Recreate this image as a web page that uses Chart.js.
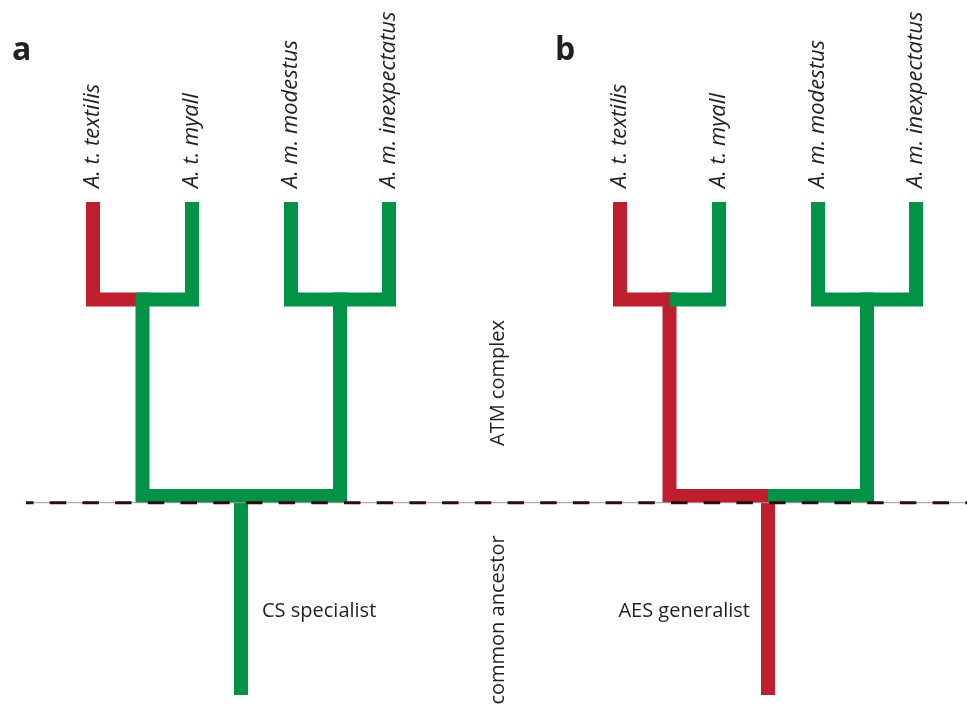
<!DOCTYPE html>
<html>
<head>
<meta charset="utf-8">
<script src="https://cdn.jsdelivr.net/npm/chart.js@4/dist/chart.umd.min.js"></script>
<style>
    html, body { margin: 0; padding: 0; background: #ffffff; }
    #wrap { width: 967px; height: 708px; position: relative; }
</style>
</head>
<body>
<div id="wrap"><canvas id="treeChart"></canvas></div>
<script>
// Tree geometry (chart units = pixels of the reference)
const taxa = ['A. t. textilis', 'A. t. myall', 'A. m. modestus', 'A. m. inexpectatus'];
const tipX = [93, 192, 291, 389];
const cladeX = [142.5, 340];
const rootX = 241;
const panelShift = [0, 527];
const tipTopY = 202;
const cladeY = 299.5;
const rootY = 496;
const baseY = 695;
const ancestorLineY = 502.7;

// Branch order: 4 tips, 2 clade stems, root
const panelLetters = ['a', 'b'];
const statesA = ['AES', 'CS', 'CS', 'CS', 'CS', 'CS', 'CS'];
const statesB = ['AES', 'CS', 'CS', 'CS', 'AES', 'CS', 'AES'];
const ancestorLabels = ['CS specialist', 'AES generalist'];
const sideLabels = ['ATM complex', 'common ancestor'];

const stateColors = { AES: '#BE1E2D', CS: '#009245' };
const branchWidth = 14;
const half = branchWidth / 2;

function buildPanel(shift, states) {
    const sets = [];
    const paths = [];
    tipX.forEach((x, i) => {
        const c = i < 2 ? 0 : 1;
        paths.push([
            { x: x + shift, y: tipTopY },
            { x: x + shift, y: cladeY },
            { x: cladeX[c] + shift, y: cladeY }
        ]);
    });
    cladeX.forEach(x => {
        paths.push([
            { x: x + shift, y: cladeY - half },
            { x: x + shift, y: rootY },
            { x: rootX + shift, y: rootY }
        ]);
    });
    paths.push([
        { x: rootX + shift, y: rootY - half },
        { x: rootX + shift, y: baseY }
    ]);
    paths.forEach((pts, i) => {
        sets.push({
            data: pts,
            showLine: true,
            borderColor: stateColors[states[i]],
            borderWidth: branchWidth,
            borderCapStyle: 'butt',
            borderJoinStyle: 'miter',
            pointRadius: 0,
            tension: 0,
            // green drawn on top of red
            order: states[i] === 'CS' ? 2 : 3
        });
    });
    return sets;
}

const datasets = [
    ...buildPanel(panelShift[0], statesA),
    ...buildPanel(panelShift[1], statesB),
    {
        data: [{ x: 26, y: ancestorLineY }, { x: 967, y: ancestorLineY }],
        showLine: true,
        borderColor: '#9a9a9a',
        borderWidth: 1,
        pointRadius: 0,
        order: 1
    },
    {
        data: [{ x: 26, y: ancestorLineY }, { x: 967, y: ancestorLineY }],
        showLine: true,
        borderColor: '#2d0d0d',
        borderWidth: 3,
        borderDash: [16.5, 16.2],
        borderDashOffset: 9,
        borderCapStyle: 'butt',
        pointRadius: 0,
        order: 0
    }
];

const labelPlugin = {
    id: 'treeLabels',
    afterDatasetsDraw(chart) {
        const ctx = chart.ctx;
        const xs = chart.scales.x;
        const ys = chart.scales.y;
        ctx.save();
        ctx.fillStyle = '#231f20';

        // panel letters
        ctx.font = 'bold 32px "Open Sans", sans-serif';
        ctx.textAlign = 'left';
        ctx.textBaseline = 'alphabetic';
        ctx.fillText(panelLetters[0], xs.getPixelForValue(12), ys.getPixelForValue(60));
        ctx.fillText(panelLetters[1], xs.getPixelForValue(555), ys.getPixelForValue(60));

        // taxon labels (rotated)
        ctx.font = 'italic 22px "Open Sans", sans-serif';
        panelShift.forEach(shift => {
            taxa.forEach((name, i) => {
                ctx.save();
                ctx.translate(xs.getPixelForValue(tipX[i] + shift), ys.getPixelForValue(188));
                ctx.rotate(-Math.PI / 2);
                ctx.textAlign = 'left';
                ctx.textBaseline = 'middle';
                ctx.fillText(name, 0, 0);
                ctx.restore();
            });
        });

        // ancestor state labels
        ctx.font = '20px "Open Sans", sans-serif';
        ctx.textBaseline = 'alphabetic';
        ctx.textAlign = 'left';
        ctx.fillText(ancestorLabels[0], xs.getPixelForValue(rootX + panelShift[0] + 21), ys.getPixelForValue(617));
        ctx.textAlign = 'right';
        ctx.fillText(ancestorLabels[1], xs.getPixelForValue(rootX + panelShift[1] - 18), ys.getPixelForValue(617));

        // side labels
        [[sideLabels[0], 383], [sideLabels[1], 620]].forEach(([txt, y]) => {
            ctx.save();
            ctx.translate(xs.getPixelForValue(498), ys.getPixelForValue(y));
            ctx.rotate(-Math.PI / 2);
            ctx.textAlign = 'center';
            ctx.textBaseline = 'middle';
            ctx.fillText(txt, 0, 0);
            ctx.restore();
        });
        ctx.restore();
    }
};

new Chart(document.getElementById('treeChart').getContext('2d'), {
    type: 'scatter',
    data: { datasets: datasets },
    options: {
        responsive: true,
        maintainAspectRatio: false,
        animation: false,
        layout: { padding: 0 },
        scales: {
            x: { type: 'linear', min: 0, max: 967, display: false },
            y: { type: 'linear', min: 0, max: 708, reverse: true, display: false }
        },
        plugins: {
            legend: { display: false },
            tooltip: { enabled: false }
        }
    },
    plugins: [labelPlugin]
});
</script>
</body>
</html>
